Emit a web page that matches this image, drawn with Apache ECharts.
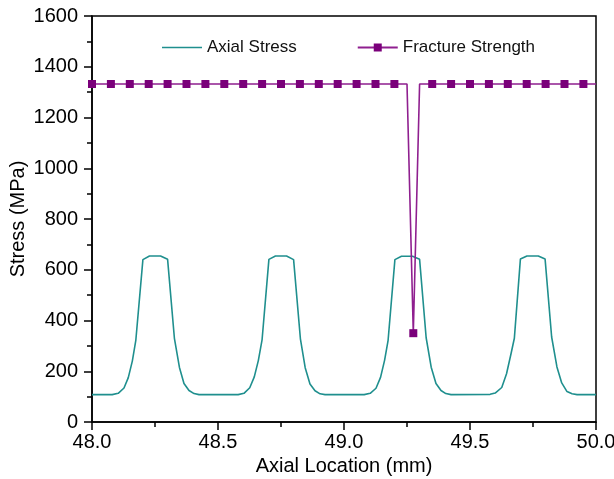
<!DOCTYPE html>
<html>
<head>
<meta charset="utf-8">
<script src="https://cdn.jsdelivr.net/npm/echarts@6/dist/echarts.min.js"></script>
<style>
  html, body { margin: 0; padding: 0; background: #fff; }
  #chart { width: 614px; height: 479px; }
</style>
</head>
<body>
<div id="chart"></div>
<script>
// Axial stress profile: positions (mm) and values (MPa)
const stressX = [
  48.000,
  48.080, 48.104, 48.127, 48.144, 48.160, 48.174, 48.202, 48.228,
  48.272, 48.300, 48.327, 48.347, 48.365, 48.385, 48.405, 48.425,
  48.580, 48.603, 48.626, 48.644, 48.660, 48.675, 48.702, 48.728,
  48.772, 48.800, 48.827, 48.846, 48.865, 48.885, 48.905, 48.925,
  49.080, 49.104, 49.127, 49.145, 49.161, 49.175, 49.202, 49.228,
  49.272, 49.300, 49.326, 49.346, 49.365, 49.385, 49.404, 49.425,
  49.580, 49.600, 49.626, 49.645, 49.663, 49.676, 49.700, 49.726,
  49.771, 49.798, 49.824, 49.845, 49.864, 49.885, 49.905, 49.925,
  50.000
];
const stressY = [
  108,
  108, 113, 134, 175, 240, 323, 640, 654,
  654, 641, 330, 215, 152, 124, 112, 108,
  108, 113, 135, 178, 242, 325, 641, 654,
  654, 640, 328, 214, 150, 123, 111, 108,
  108, 113, 133, 176, 243, 322, 640, 653,
  653, 641, 332, 216, 152, 124, 112, 108,
  109, 114, 136, 190, 270, 330, 642, 654,
  654, 642, 335, 217, 154, 120, 111, 108,
  108
];

// Fracture strength sampled every 0.025 mm
const fracX = [
  48.000, 48.025, 48.050, 48.075, 48.100, 48.125, 48.150, 48.175, 48.200, 48.225,
  48.250, 48.275, 48.300, 48.325, 48.350, 48.375, 48.400, 48.425, 48.450, 48.475,
  48.500, 48.525, 48.550, 48.575, 48.600, 48.625, 48.650, 48.675, 48.700, 48.725,
  48.750, 48.775, 48.800, 48.825, 48.850, 48.875, 48.900, 48.925, 48.950, 48.975,
  49.000, 49.025, 49.050, 49.075, 49.100, 49.125, 49.150, 49.175, 49.200, 49.225,
  49.250, 49.275, 49.300, 49.325, 49.350, 49.375, 49.400, 49.425, 49.450, 49.475,
  49.500, 49.525, 49.550, 49.575, 49.600, 49.625, 49.650, 49.675, 49.700, 49.725,
  49.750, 49.775, 49.800, 49.825, 49.850, 49.875, 49.900, 49.925, 49.950, 49.975,
  50.000
];
const fracY = [
  1332, 1332, 1332, 1332, 1332, 1332, 1332, 1332, 1332, 1332,
  1332, 1332, 1332, 1332, 1332, 1332, 1332, 1332, 1332, 1332,
  1332, 1332, 1332, 1332, 1332, 1332, 1332, 1332, 1332, 1332,
  1332, 1332, 1332, 1332, 1332, 1332, 1332, 1332, 1332, 1332,
  1332, 1332, 1332, 1332, 1332, 1332, 1332, 1332, 1332, 1332,
  1332,  350, 1332, 1332, 1332, 1332, 1332, 1332, 1332, 1332,
  1332, 1332, 1332, 1332, 1332, 1332, 1332, 1332, 1332, 1332,
  1332, 1332, 1332, 1332, 1332, 1332, 1332, 1332, 1332, 1332,
  1332
];

const seriesNames = ['Axial Stress', 'Fracture Strength'];
const xTitle = 'Axial Location (mm)';
const yTitle = 'Stress (MPa)';

const FONT = '"Liberation Sans", Arial, sans-serif';
const TEAL = '#1f8f8e';
const PURPLE_LINE = '#8f1f8f';
const PURPLE_MARK = '#7a007a';

const stressData = stressX.map((x, i) => [x, stressY[i]]);
// square markers on every third sample
const fracData = fracX.map((x, i) => ({
  value: [x, fracY[i]],
  symbol: i % 3 === 0 ? 'rect' : 'none'
}));

const axisCommon = {
  axisLine: { show: true, onZero: false, lineStyle: { color: '#000', width: 1.5 } },
  axisTick: { show: true, inside: false, length: 8, lineStyle: { color: '#000', width: 1.5 } },
  minorTick: { show: true, splitNumber: 2, length: 5, lineStyle: { color: '#000', width: 1.5 } },
  splitLine: { show: false },
  minorSplitLine: { show: false },
  axisLabel: { color: '#000', fontSize: 20, fontFamily: FONT },
  nameTextStyle: { color: '#000', fontSize: 20, fontFamily: FONT },
  nameMoveOverlap: false
};

const chart = echarts.init(document.getElementById('chart'), null, { renderer: 'canvas' });
chart.setOption({
  animation: false,
  backgroundColor: '#fff',
  grid: {
    left: 92, right: 18, top: 16, bottom: 57,
    containLabel: false, outerBoundsMode: 'none',
    show: true, borderColor: '#000', borderWidth: 1.5, backgroundColor: 'transparent'
  },
  legend: {
    left: 157, top: 34,
    itemWidth: 40, itemHeight: 10, itemGap: 60,
    textStyle: { color: '#111', fontSize: 17, fontFamily: FONT },
    data: [
      { name: seriesNames[0], icon: 'path://M0,0 L40,0 L40,1.6 L0,1.6 Z' },
      { name: seriesNames[1] }
    ]
  },
  xAxis: Object.assign({}, axisCommon, {
    type: 'value', min: 48, max: 50, interval: 0.5,
    name: xTitle, nameLocation: 'middle', nameGap: 34,
    axisLabel: Object.assign({}, axisCommon.axisLabel, {
      margin: 10,
      formatter: v => v.toFixed(1)
    })
  }),
  yAxis: Object.assign({}, axisCommon, {
    type: 'value', min: 0, max: 1600, interval: 200,
    name: yTitle, nameLocation: 'middle', nameGap: 64, nameRotate: 90,
    axisLabel: Object.assign({}, axisCommon.axisLabel, {
      margin: 14,
      formatter: v => String(v)
    })
  }),
  series: [
    {
      name: seriesNames[0], type: 'line', data: stressData,
      symbol: 'none', showSymbol: false,
      lineStyle: { color: TEAL, width: 1.6 },
      itemStyle: { color: TEAL }
    },
    {
      name: seriesNames[1], type: 'line', data: fracData,
      symbol: 'rect', symbolSize: 8, showAllSymbol: true,
      lineStyle: { color: PURPLE_LINE, width: 1.6 },
      itemStyle: { color: PURPLE_MARK }
    }
  ]
});
</script>
</body>
</html>
